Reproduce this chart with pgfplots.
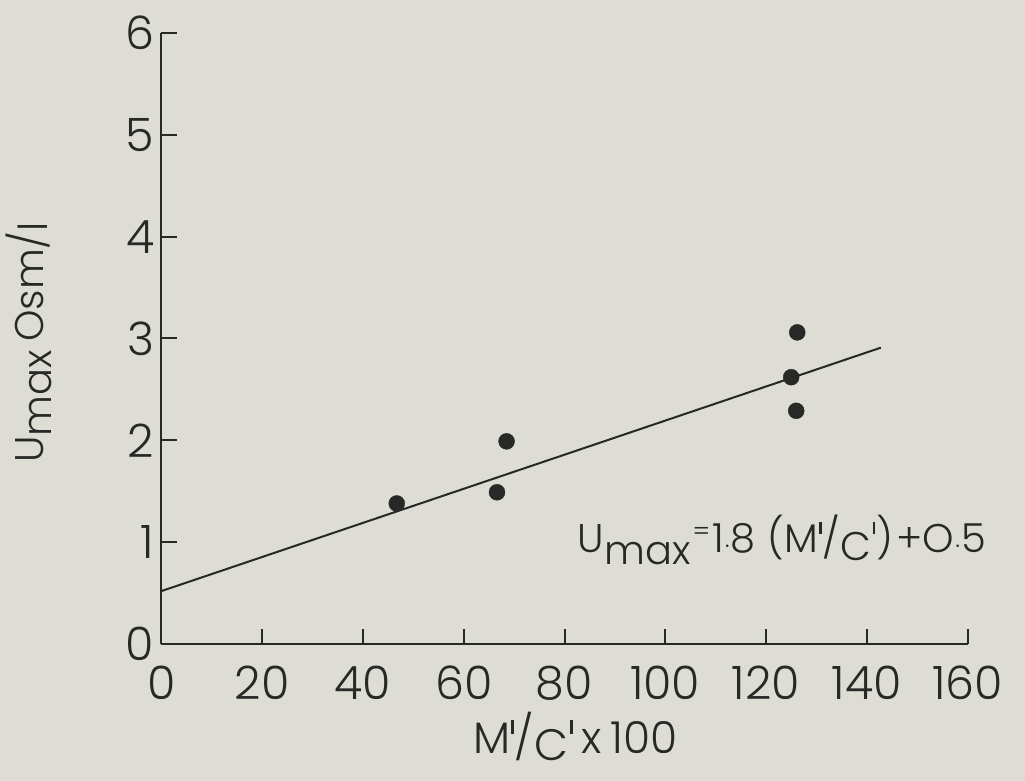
\documentclass[border=0pt]{standalone}
\usepackage{pgfplots}
\pgfplotsset{compat=1.18}
\usepackage{fontspec}
\setmainfont{Poppins}[UprightFont={* Light}]
\definecolor{paper}{RGB}{221,221,213}
\definecolor{ink}{RGB}{40,40,38}
\newcommand{\pr}{\rule[0.45em]{0.06em}{0.32em}}
\begin{document}
\begin{tikzpicture}
\fill[paper] (-161.5pt,-137pt) rectangle (863.5pt,644pt);
\begin{axis}[
  at={(0pt,0pt)}, anchor=origin,
  scale only axis, width=806pt, height=611pt,
  xmin=0, xmax=160, ymin=0, ymax=6,
  axis x line=bottom, axis y line=left,
  axis line style={-, line width=2pt, ink},
  xtick={0,20,...,160}, ytick={0,1,...,6},
  tick align=inside, major tick length=15pt,
  tick style={line width=2pt, ink},
  /pgf/number format/assume math mode=true,
  every tick label/.style={inner sep=0pt, text=ink, font=\fontsize{46}{50}\selectfont},
  xticklabel style={anchor=north, yshift=-22pt},
  yticklabel style={anchor=east, xshift=-7pt},
  clip=false,
]
\addplot[ink, line width=2pt] coordinates {(0,0.52) (142.8,2.91)};
\addplot[only marks, mark=*, mark size=8pt, ink, mark options={fill=ink, draw=ink}] coordinates {
 (46.7,1.38) (66.6,1.49) (68.5,1.99) (125.0,2.62) (126.2,3.06) (126.0,2.29)};
\node[anchor=base west, inner sep=0pt, text=ink, font=\fontsize{40}{44}\selectfont] at (axis cs:82.6,0.90)
 {U\raisebox{-0.3em}{max}\kern0.05em\raisebox{0.3em}{\fontsize{26}{28}\selectfont=}\kern0.05em1$\cdot$8\hspace{0.3em}(M\kern0.03em\pr\kern0.02em/\raisebox{-0.2em}{C}\kern0.04em\pr\kern0.04em)\hspace{0.08em}+O$\cdot$5};
\node[anchor=base west, inner sep=0pt, text=ink, font=\fontsize{44}{48}\selectfont] at (axis cs:61.8,-1.08)
 {M\kern0.03em\pr\kern0.02em/\raisebox{-0.15em}{C}\kern0.05em\pr\hspace{0.2em}x\hspace{0.2em}100};
\node[anchor=base west, inner sep=0pt, rotate=90, text=ink, font=\fontsize{40}{44}\selectfont] at (axis cs:-23.5,1.78)
 {U\raisebox{-0.2em}{max}\hspace{0.2em}Osm/\raisebox{-0.1em}{l}};
\end{axis}
\end{tikzpicture}
\end{document}
